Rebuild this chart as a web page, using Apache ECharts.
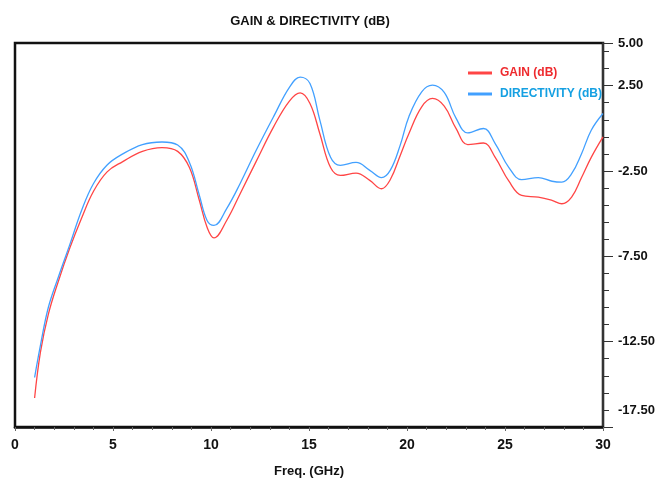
<!DOCTYPE html>
<html>
<head>
<meta charset="utf-8">
<script src="https://cdn.jsdelivr.net/npm/echarts@6/dist/echarts.min.js"></script>
<style>html,body{margin:0;padding:0;background:#fff}#c{width:658px;height:483px}</style>
</head>
<body>
<div id="c"></div>
<script>
var freq = [1.0, 1.3, 1.7, 2.2, 2.8, 3.4, 4.0, 4.7, 5.5, 6.5, 7.5, 8.3, 8.9, 9.4, 9.8, 10.15, 10.8, 11.5, 12.3, 13.2, 14.0, 14.55, 15.05, 15.55, 16.1, 16.6, 17.4, 18.1, 18.7, 19.15, 19.65, 20.1, 20.75, 21.3, 21.9, 22.5, 23.1, 23.9, 24.5, 25.2, 25.85, 26.7, 27.4, 27.9, 28.4, 28.9, 29.4, 30.0];
var gain = [-15.8, -13.1, -10.9, -9.0, -7.0, -5.25, -3.7, -2.55, -1.95, -1.35, -1.13, -1.35, -2.3, -4.2, -5.8, -6.42, -5.4, -3.8, -1.95, 0.1, 1.6, 2.08, 1.46, -0.3, -2.3, -2.76, -2.62, -3.05, -3.54, -3.0, -1.6, -0.3, 1.26, 1.75, 1.3, 0.0, -0.95, -0.86, -1.7, -3.1, -3.93, -4.03, -4.22, -4.42, -4.03, -2.9, -1.7, -0.5];
var directivity = [-14.6, -12.7, -10.5, -8.75, -6.8, -4.8, -3.25, -2.15, -1.5, -0.95, -0.8, -0.98, -2.0, -3.9, -5.4, -5.69, -4.7, -3.2, -1.3, 0.7, 2.4, 3.0, 2.63, 0.5, -1.7, -2.17, -2.0, -2.46, -2.89, -2.45, -1.0, 0.7, 2.14, 2.53, 2.1, 0.6, -0.27, -0.01, -0.89, -2.3, -3.01, -2.89, -3.1, -3.15, -2.66, -1.5, -0.11, 0.87];
var yTickValues = [5, 2.5, -2.5, -7.5, -12.5, -16.5];
var yTickLabels = ['5.00', '2.50', '-2.50', '-7.50', '-12.50', '-17.50'];
var xTickLabels = ['0', '5', '10', '15', '20', '25', '30'];

var FONT = '"Liberation Sans", Arial, sans-serif';
function pairs(xs, ys) { return xs.map(function (x, i) { return [x, ys[i]]; }); }
function yLabel(v) {
  for (var i = 0; i < yTickValues.length; i++) {
    if (Math.abs(v - yTickValues[i]) < 1e-6) return yTickLabels[i];
  }
  return '';
}

var chart = echarts.init(document.getElementById('c'), null, { renderer: 'canvas' });
chart.setOption({
  animation: false,
  backgroundColor: '#fff',
  textStyle: { fontFamily: FONT },
  title: {
    text: 'GAIN & DIRECTIVITY (dB)',
    left: 305, top: 10, textAlign: 'center',
    textStyle: { fontFamily: FONT, fontWeight: 'bold', fontSize: 13, color: '#111' }
  },
  legend: {
    orient: 'vertical',
    left: 463, top: 62,
    icon: 'rect',
    itemWidth: 24, itemHeight: 3, itemGap: 9,
    data: [
      { name: 'GAIN (dB)', textStyle: { color: '#ee2a2e' } },
      { name: 'DIRECTIVITY (dB)', textStyle: { color: '#15a0e2' } }
    ],
    textStyle: { fontFamily: FONT, fontWeight: 'bold', fontSize: 12, padding: [0, 0, 0, 3] }
  },
  grid: {
    left: 15, right: 55, top: 43, bottom: 56,
    outerBoundsMode: 'none', containLabel: false,
    show: true, borderColor: '#111', borderWidth: 2.5, backgroundColor: '#fff'
  },
  xAxis: {
    type: 'value', min: 0, max: 30, interval: 5,
    name: 'Freq. (GHz)', nameLocation: 'middle', nameGap: 38,
    nameTextStyle: { fontFamily: FONT, fontWeight: 'bold', fontSize: 13, color: '#111' },
    axisLine: { show: true, onZero: false, lineStyle: { color: '#111', width: 2.5 } },
    axisTick: { show: true, length: 4, lineStyle: { color: '#666' } },
    minorTick: { show: true, splitNumber: 5, length: 3, lineStyle: { color: '#666' } },
    splitLine: { show: false },
    axisLabel: {
      margin: 11, fontFamily: FONT, fontWeight: 'bold', fontSize: 14, color: '#111',
      formatter: function (v) { return xTickLabels[Math.round(v / 5)] || ''; }
    }
  },
  yAxis: [{
    type: 'value', position: 'right', min: -17.5, max: 5, interval: 1,
    axisLine: { show: true, onZero: false, lineStyle: { color: '#333', width: 2 } },
    axisTick: { show: true, length: 6, lineStyle: { color: '#333' } },
    splitLine: { show: false },
    axisLabel: {
      margin: 15, fontFamily: FONT, fontWeight: 'bold', fontSize: 13, color: '#111',
      showMinLabel: false, showMaxLabel: true, hideOverlap: false,
      formatter: yLabel
    }
  }, {
    type: 'value', position: 'right', min: -17.5, max: 5, interval: 5,
    axisLine: { show: false, onZero: false },
    axisTick: { show: true, length: 10, lineStyle: { color: '#333' } },
    splitLine: { show: false },
    axisLabel: { show: false }
  }],
  series: [{
    name: 'GAIN (dB)', type: 'line', smooth: 0.4, symbol: 'none',
    data: pairs(freq, gain),
    itemStyle: { color: '#ff4545' },
    lineStyle: { color: '#ff4545', width: 1.3 }
  }, {
    name: 'DIRECTIVITY (dB)', type: 'line', smooth: 0.4, symbol: 'none',
    data: pairs(freq, directivity),
    itemStyle: { color: '#42a0ff' },
    lineStyle: { color: '#42a0ff', width: 1.3 }
  }]
});
</script>
</body>
</html>
